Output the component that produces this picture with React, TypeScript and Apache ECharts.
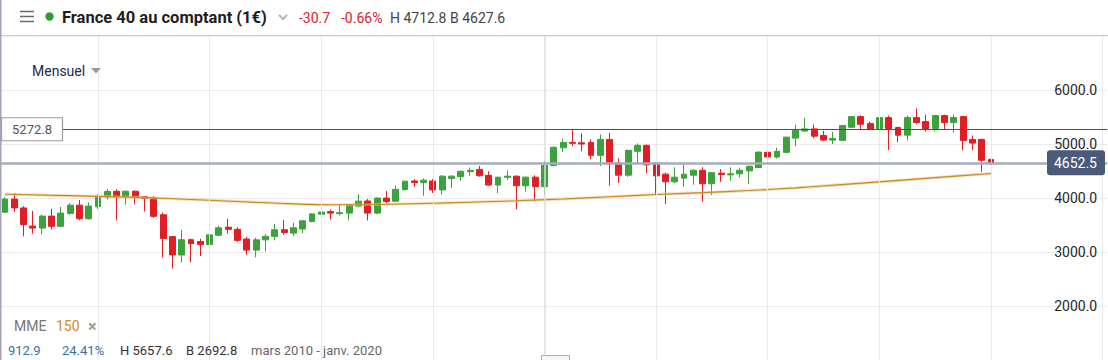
import React, { useEffect, useRef } from 'react';
import * as echarts from 'echarts';

// Months from mars 2010 to janv. 2020 (visible range)
const categories: string[] = (() => {
  const out: string[] = [];
  let y = 2010;
  let m = 3;
  for (let i = 0; i < 119; i++) {
    out.push(`${y}-${String(m).padStart(2, '0')}`);
    m++;
    if (m > 12) { m = 1; y++; }
  }
  return out;
})();

const opens = [
  3737, 3980, 3816, 3480, 3443, 3665, 3475, 3715, 3868, 3615,
  3840, 4020, 4125, 4025, 4125, 4025, 3995, 3690, 3285, 2945, 3228, 3195,
  3140, 3310, 3460, 3420, 3240, 3035, 3225, 3290, 3412, 3350, 3425, 3565,
  3700, 3748, 3710, 3720, 3850, 3945, 3720, 3998, 3940, 4155, 4315, 4288,
  4315, 4150, 4362, 4395, 4488, 4530, 4420, 4240, 4382, 4404, 4228, 4386,
  4210, 4600, 4930, 5030, 5022, 5029, 4790, 5085, 4649, 4423, 4864, 4974,
  4649, 4441, 4300, 4368, 4423, 4514, 4264, 4459, 4428, 4447, 4502, 4564,
  4845, 4759, 4845, 5109, 5240, 5280, 5158, 5072, 5066, 5310, 5507, 5378,
  5287, 5489, 5305, 5164, 5489, 5415, 5287, 5526, 5397, 5507, 5084, 5084,
  4712,
];
const highs = [
  4013, 4092, 3850, 3760, 3690, 3798, 3835, 3905, 3963, 3920,
  4070, 4165, 4160, 4135, 4140, 4040, 4030, 3730, 3300, 3410, 3250, 3246,
  3345, 3485, 3614, 3460, 3280, 3265, 3330, 3522, 3596, 3540, 3590, 3715,
  3798, 3785, 3870, 3880, 4073, 3982, 4010, 4129, 4235, 4320, 4350, 4360,
  4350, 4423, 4423, 4510, 4565, 4594, 4495, 4395, 4510, 4420, 4400, 4420,
  4700, 4955, 5103, 5256, 5195, 5085, 5176, 5208, 4735, 4895, 5011, 4990,
  4665, 4470, 4570, 4625, 4530, 4570, 4480, 4533, 4570, 4564, 4600, 4860,
  4913, 4932, 5135, 5360, 5489, 5360, 5244, 5226, 5350, 5510, 5531, 5415,
  5563, 5526, 5320, 5526, 5657.6, 5544, 5540, 5545, 5544, 5520, 5158, 5100,
  4730,
];
const lows = [
  3720, 3748, 3290, 3338, 3326, 3417, 3460, 3690, 3590, 3600,
  3800, 3970, 3585, 3877, 3880, 3750, 3630, 2900, 2692.8, 2805, 2810, 2925,
  3120, 3300, 3340, 3190, 2950, 2900, 3010, 3216, 3320, 3300, 3345, 3550,
  3680, 3600, 3675, 3585, 3830, 3585, 3700, 3900, 3930, 4140, 4210, 4042,
  4092, 4060, 4185, 4318, 4410, 4395, 4225, 4092, 4330, 3790, 4116, 3940,
  4055, 4590, 4851, 4960, 4864, 4717, 4594, 4227, 4276, 4392, 4640, 4460,
  4055, 3890, 4276, 4208, 4245, 3932, 4055, 4300, 4318, 4380, 4257, 4555,
  4740, 4730, 4840, 4961, 5230, 5103, 5060, 4998, 5060, 5300, 5256, 5260,
  5256, 4888, 5035, 5066, 5366, 5232, 5232, 5268, 5213, 4882, 4882, 4484,
  4615,
];
const closes = [
  3980, 3816, 3508, 3443, 3665, 3475, 3720, 3868, 3615, 3850,
  4020, 4120, 4025, 4125, 4025, 3990, 3660, 3250, 2945, 3228, 3155, 3140,
  3318, 3448, 3420, 3215, 3035, 3225, 3290, 3412, 3362, 3449, 3577, 3706,
  3740, 3720, 3728, 3875, 3942, 3720, 3998, 3935, 4160, 4310, 4285, 4330,
  4150, 4405, 4404, 4495, 4512, 4412, 4240, 4385, 4405, 4228, 4386, 4210,
  4605, 4938, 5029, 5012, 5000, 4790, 5085, 4632, 4423, 4882, 4974, 4613,
  4410, 4300, 4386, 4441, 4514, 4264, 4470, 4436, 4447, 4514, 4588, 4850,
  4759, 4864, 5127, 5256, 5280, 5145, 5072, 5103, 5342, 5507, 5366, 5268,
  5489, 5287, 5164, 5489, 5397, 5287, 5526, 5397, 5489, 5066, 5017, 4698,
  4652.5,
];

// MME 150 read at sampled candles (index -> value)
const emaIndex = [0, 10, 15, 20, 25, 30, 35, 40, 45, 50, 55, 60, 65, 70, 75, 80, 85, 90, 95, 100, 106];
const emaValue = [4070, 4031, 4007, 3972, 3936, 3897, 3875, 3880, 3899, 3921, 3949, 3982, 4022, 4064, 4099, 4138, 4187, 4248, 4312, 4377, 4454];

// Yearly vertical grid (janvier)
const yearLines = ['2011-01', '2012-01', '2013-01', '2014-01', '2015-01', '2016-01', '2017-01', '2018-01', '2019-01', '2020-01'];

const refLevel = 5272.8;
const lastPrice = 4652.5;
const yTicks = { min: 1000, max: 7000, interval: 1000 };

const GREEN = '#3ca33c';
const RED = '#e21e24';
const FONT = 'Roboto, "Noto Sans", sans-serif';

export default function App() {
  const ref = useRef<HTMLDivElement | null>(null);

  useEffect(() => {
    document.body.style.margin = '0';
    if (!ref.current) return;
    const chart = echarts.init(ref.current, null, { renderer: 'svg' });

    const candleData = opens.map((o, i) => [o, closes[i], lows[i], highs[i]]);
    const emaData: (number | null)[] = opens.map(() => null);
    emaIndex.forEach((idx, k) => { emaData[idx] = emaValue[k]; });

    chart.setOption({
      animation: false,
      backgroundColor: '#ffffff',
      grid: { left: 0.35, right: 0.75, top: 36, height: 326.5, containLabel: false },
      xAxis: {
        type: 'category',
        data: categories,
        boundaryGap: true,
        axisLine: { show: false },
        axisTick: { show: false },
        axisLabel: { show: false },
        splitLine: { show: false },
      },
      yAxis: {
        type: 'value',
        position: 'right',
        min: yTicks.min,
        max: yTicks.max,
        interval: yTicks.interval,
        axisLine: { show: false },
        axisTick: { show: false },
        axisLabel: {
          inside: true,
          margin: 10,
          showMinLabel: false,
          showMaxLabel: false,
          color: '#262626',
          fontSize: 14,
          fontFamily: FONT,
          formatter: (v: number) => v.toFixed(1),
        },
        splitLine: { lineStyle: { color: '#ebebeb', width: 1 } },
      },
      series: [
        {
          name: 'grid',
          type: 'line',
          data: categories.map(() => null),
          z: 1,
          silent: true,
          showSymbol: false,
          markLine: {
            silent: true,
            symbol: ['none', 'none'],
            label: { show: false },
            animation: false,
            data: [
              ...yearLines.map((c) => ({ xAxis: c, lineStyle: { color: c === '2015-01' ? '#dedede' : '#e9e9e9', width: c === '2015-01' ? 1.5 : 1, type: 'solid' } })),
              { yAxis: refLevel, lineStyle: { color: '#4f4f4f', width: 1, type: 'solid' } },
              { yAxis: lastPrice, lineStyle: { color: '#a5adba', width: 2.6, type: 'solid' } },
            ],
          },
        },
        {
          name: 'France 40',
          type: 'candlestick',
          data: candleData,
          barWidth: 6.4,
          z: 2,
          itemStyle: {
            color: GREEN,
            color0: RED,
            borderColor: GREEN,
            borderColor0: RED,
            borderWidth: 1,
          },
        },
        {
          name: 'MME halo',
          type: 'line',
          data: emaData,
          connectNulls: true,
          smooth: 0.3,
          showSymbol: false,
          silent: true,
          z: 3,
          lineStyle: { color: 'rgba(228,190,125,0.5)', width: 3 },
        },
        {
          name: 'MME 150',
          type: 'line',
          data: emaData,
          connectNulls: true,
          smooth: 0.3,
          showSymbol: false,
          silent: true,
          z: 4,
          lineStyle: { color: '#c98a22', width: 1.1 },
        },
      ],
    });

    const yRef = chart.convertToPixel({ yAxisIndex: 0 }, refLevel) as number;
    const yLast = chart.convertToPixel({ yAxisIndex: 0 }, lastPrice) as number;

    const txt = (x: number, y: number, text: string, fill: string, font: string, align = 'left') => ({
      type: 'text',
      x,
      y,
      z: 100,
      style: { text, fill, font, align, verticalAlign: 'middle', textAlign: align, textVerticalAlign: 'middle' },
    });

    chart.setOption({
      graphic: [
        // header
        { type: 'rect', shape: { x: 0, y: 0, width: 1108, height: 35 }, style: { fill: '#ffffff' }, z: 90 },
        { type: 'line', shape: { x1: 0, y1: 35.5, x2: 1108, y2: 35.5 }, style: { stroke: '#cfcfcf', lineWidth: 1 }, z: 91 },
        { type: 'line', shape: { x1: 20, y1: 11.5, x2: 34, y2: 11.5 }, style: { stroke: '#6b6b6b', lineWidth: 1.5 }, z: 100 },
        { type: 'line', shape: { x1: 20, y1: 16.5, x2: 34, y2: 16.5 }, style: { stroke: '#6b6b6b', lineWidth: 1.5 }, z: 100 },
        { type: 'line', shape: { x1: 20, y1: 21.5, x2: 34, y2: 21.5 }, style: { stroke: '#6b6b6b', lineWidth: 1.5 }, z: 100 },
        { type: 'circle', shape: { cx: 49.5, cy: 16.5, r: 4.2 }, style: { fill: '#2f9a37' }, z: 100 },
        txt(62, 17.5, 'France 40 au comptant (1€)', '#1e1e1e', `bold 16.5px ${FONT}`),
        { type: 'polyline', shape: { points: [[279, 15], [283, 19], [287, 15]] }, style: { stroke: '#b4b4b4', lineWidth: 2, fill: 'none' }, z: 100 },
        txt(299, 17.5, '-30.7', '#e0202a', `14px ${FONT}`),
        txt(341, 17.5, '-0.66%', '#e0202a', `14px ${FONT}`),
        txt(390, 17.5, 'H 4712.8 B 4627.6', '#444444', `14px ${FONT}`),
        // left border
        { type: 'rect', shape: { x: 0, y: 0, width: 1.5, height: 360 }, style: { fill: '#a4a4b4' }, z: 101 },
        // timeframe
        txt(32, 70.5, 'Mensuel', '#1f2a44', `14px ${FONT}`),
        { type: 'polygon', shape: { points: [[91, 68], [101, 68], [96, 73.5]] }, style: { fill: '#9a9a9a' }, z: 100 },
        // reference level box
        { type: 'rect', shape: { x: 1.5, y: yRef - 11.5, width: 61, height: 23 }, style: { fill: '#ffffff', stroke: '#9c9c9c', lineWidth: 1.2 }, z: 100 },
        txt(32, yRef, '5272.8', '#555555', `13px ${FONT}`, 'center'),
        // last price box
        { type: 'rect', shape: { x: 1047, y: yLast - 12.5, width: 58, height: 25, r: 3 }, style: { fill: '#4a5a78' }, z: 100 },
        txt(1097, yLast, '4652.5', '#ffffff', `14px ${FONT}`, 'right'),
        // indicator legend
        txt(14, 326, 'MME', '#777777', `14px ${FONT}`),
        txt(56, 326, '150', '#d08a2a', `14px ${FONT}`),
        txt(88, 326, '×', '#9a9a9a', `bold 16px ${FONT}`),
        // info line
        txt(8, 350, '912.9', '#3a6ea8', `13px ${FONT}`),
        txt(62, 350, '24.41%', '#3a6ea8', `13px ${FONT}`),
        txt(120, 350, 'H 5657.6', '#333333', `13px ${FONT}`),
        txt(186, 350, 'B 2692.8', '#333333', `13px ${FONT}`),
        txt(251, 350, 'mars 2010 - janv. 2020', '#666666', `13px ${FONT}`),
        // scroll handle
        { type: 'rect', shape: { x: 541.5, y: 355.5, width: 28, height: 8 }, style: { fill: '#f5f5f5', stroke: '#b0b0b0', lineWidth: 1 }, z: 100 },
      ],
    });

    return () => chart.dispose();
  }, []);

  return <div ref={ref} style={{ width: 1108, height: 360 }} />;
}
